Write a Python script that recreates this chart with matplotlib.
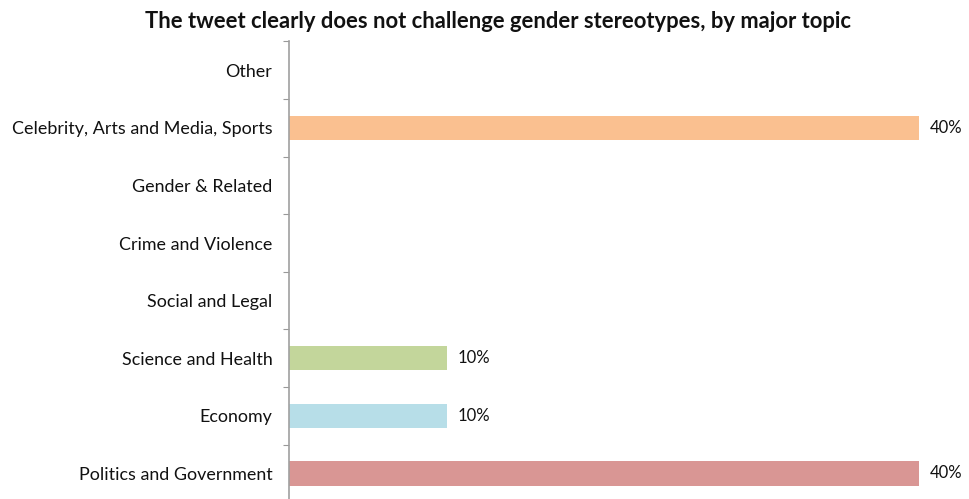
import numpy as np
import matplotlib
matplotlib.use("Agg")
import matplotlib.pyplot as plt
from matplotlib.ticker import FixedLocator

# topics listed bottom to top, share of tweets per topic
topics = ["Politics and Government", "Economy", "Science and Health",
          "Social and Legal", "Crime and Violence", "Gender & Related",
          "Celebrity, Arts and Media, Sports", "Other"]
shares = [0.40, 0.10, 0.10, 0.0, 0.0, 0.0, 0.40, 0.0]
colors = ["#D99694", "#B7DEE8", "#C3D69B", "#C3D69B", "#C3D69B",
          "#C3D69B", "#FAC090", "#FAC090"]

plt.rcParams['font.family'] = ['Lato', 'DejaVu Sans']

W, H = 969, 499
fig = plt.figure(figsize=(W / 100, H / 100), dpi=100)
ax_left, ax_right = 289, 919
step = 57.6
top_px = 41.5
bot_px = top_px + 8 * step
ax = fig.add_axes([ax_left / W, 1 - bot_px / H, (ax_right - ax_left) / W, 8 * step / H])

y = np.arange(len(topics))
ax.barh(y, shares, height=0.42, color=colors, edgecolor='none')
for yi, v in zip(y, shares):
    if v > 0:
        ax.text(v + 0.007, yi, f"{v:.0%}", va='center', ha='left',
                fontsize=12, color='#111111', clip_on=False)

ax.set_xlim(0, 0.40)
ax.set_ylim(-0.5, 7.5)
ax.set_yticks(y)
ax.set_yticklabels(topics, fontsize=12.9, color='#111111')
ax.yaxis.set_minor_locator(FixedLocator(np.arange(-0.5, 8, 1.0)))
ax.tick_params(axis='y', which='major', length=0, pad=12)
ax.tick_params(axis='y', which='minor', length=4, color='#999999', width=0.8)
ax.set_xticks([])
for s in ['top', 'right', 'bottom']:
    ax.spines[s].set_visible(False)
ax.spines['left'].set_color('#A0A0A0')
ax.spines['left'].set_linewidth(1.2)

fig.text(498 / W, 1 - 22 / H,
         "The tweet clearly does not challenge gender stereotypes, by major topic",
         ha='center', va='center', fontsize=15.8, fontweight='bold', color='#111111')

fig.savefig("out.png", dpi=100)
